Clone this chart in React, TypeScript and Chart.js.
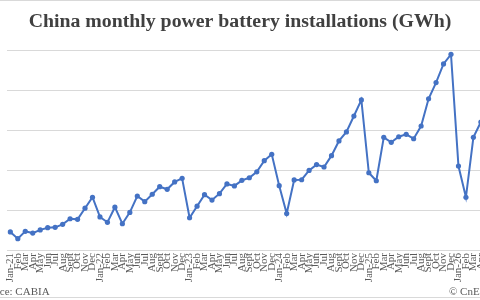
import React, { useEffect, useRef } from "react";
import { Chart, registerables } from "chart.js";

Chart.register(...registerables);

// Month labels, one per data point (Jan-21 .. Apr-26)
const LABELS_2021 = ["Jan-21", "Feb", "Mar", "Apr", "May", "Jun", "Jul", "Aug", "Sept", "Oct", "Nov", "Dec"];
const LABELS_2022 = ["Jan-22", "Feb", "Mar", "Apr", "May", "Jun", "Jul", "Aug", "Sept", "Oct", "Nov", "Dec"];
const LABELS_2023 = ["Jan-23", "Feb", "Mar", "Apr", "May", "Jun", "Jul", "Aug", "Sept", "Oct", "Nov", "Dec"];
const LABELS_2024 = ["Jan-24", "Feb", "Mar", "Apr", "May", "Jun", "Jul", "Aug", "Sept", "Oct", "Nov", "Dec"];
const LABELS_2025 = ["Jan-25", "Feb", "Mar", "Apr", "May", "Jun", "Jul", "Aug", "Sept", "Oct", "Nov", "Dec"];
const LABELS_2026 = ["Jan-26", "Feb", "Mar", "Apr"];

// Monthly installations, GWh
const GWH_2021 = [9.1, 5.7, 9.4, 8.5, 10.1, 11.2, 11.4, 12.9, 15.7, 15.4, 21.0, 26.5];
const GWH_2022 = [16.6, 13.9, 21.5, 13.2, 18.9, 27.1, 24.3, 28.0, 31.8, 30.5, 34.2, 36.0];
const GWH_2023 = [16.2, 22.0, 27.8, 25.1, 28.3, 33.2, 32.2, 35.0, 36.3, 39.3, 44.9, 48.1];
const GWH_2024 = [32.3, 18.3, 35.2, 35.3, 40.0, 42.9, 41.7, 47.4, 54.8, 59.3, 67.3, 75.4];
const GWH_2025 = [38.8, 34.8, 56.6, 54.1, 56.9, 58.1, 55.9, 62.3, 76.0, 84.1, 93.5, 98.3];
const GWH_2026 = [42.2, 26.5, 56.6, 64.3];

const LABELS = [...LABELS_2021, ...LABELS_2022, ...LABELS_2023, ...LABELS_2024, ...LABELS_2025, ...LABELS_2026];
const VALUES = [...GWH_2021, ...GWH_2022, ...GWH_2023, ...GWH_2024, ...GWH_2025, ...GWH_2026];

const TITLE = "China monthly power battery installations (GWh)";
const SOURCE = "Source: CABIA";
const CREDIT = "© CnEVPost";

const SERIF = '"Liberation Serif", "Times New Roman", serif';
const CANVAS_W = 560;
const CANVAS_H = 300;
const SHIFT = 40;
const SIDE_PAD = 35.4;

const footerPlugin = {
  id: "footerText",
  afterDraw(chart: any) {
    const { ctx } = chart;
    ctx.save();
    ctx.strokeStyle = "#d9d9d9";
    ctx.lineWidth = 1;
    ctx.beginPath();
    ctx.moveTo(0, 0.5);
    ctx.lineTo(CANVAS_W, 0.5);
    ctx.moveTo(0, 297.5);
    ctx.lineTo(CANVAS_W, 297.5);
    ctx.stroke();
    ctx.fillStyle = "#595959";
    ctx.font = `11px ${SERIF}`;
    ctx.textBaseline = "alphabetic";
    ctx.textAlign = "left";
    ctx.fillText(SOURCE, 19, 295);
    ctx.fillText(CREDIT, 489, 295);
    ctx.restore();
  },
};

export default function App() {
  const ref = useRef<HTMLCanvasElement>(null);

  useEffect(() => {
    if (!ref.current) return;
    const chart = new Chart(ref.current, {
      type: "line",
      data: {
        labels: LABELS,
        datasets: [
          {
            data: VALUES,
            borderColor: "#4472C4",
            backgroundColor: "#4472C4",
            borderWidth: 2,
            pointRadius: 2.6,
            pointBorderWidth: 0,
            pointBackgroundColor: "#4472C4",
            tension: 0,
            clip: 0,
          },
        ],
      },
      options: {
        responsive: false,
        animation: false,
        layout: { padding: { left: SIDE_PAD, right: SIDE_PAD, top: 0, bottom: 0 } },
        plugins: {
          legend: { display: false },
          tooltip: { enabled: false },
          title: {
            display: true,
            text: TITLE,
            color: "#404040",
            font: { family: SERIF, size: 19.8, weight: "bold", lineHeight: 1.2 },
            padding: { top: 10, bottom: 17.2 },
          },
        },
        scales: {
          x: {
            type: "category",
            offset: true,
            grid: { display: false, drawTicks: false },
            border: { display: false },
            ticks: {
              autoSkip: false,
              maxRotation: 90,
              minRotation: 90,
              padding: 3,
              color: "#595959",
              font: { family: SERIF, size: 11 },
            },
            afterFit(scale: any) {
              scale.height = 50;
            },
          },
          y: {
            min: 0,
            max: 100,
            ticks: { stepSize: 20, display: false },
            grid: { color: "#d9d9d9", lineWidth: 1, drawTicks: false },
            border: { display: false },
            afterFit(scale: any) {
              scale.width = SHIFT + 6.6 - SIDE_PAD;
            },
          },
        },
      },
      plugins: [footerPlugin],
    });
    return () => chart.destroy();
  }, []);

  return (
    <div
      style={{
        position: "fixed",
        left: 0,
        top: 0,
        width: 480,
        height: 300,
        overflow: "hidden",
        background: "#ffffff",
      }}
    >
      <div style={{ position: "absolute", left: -SHIFT, top: 0, width: CANVAS_W, height: CANVAS_H }}>
        <canvas ref={ref} width={CANVAS_W} height={CANVAS_H} />
      </div>
    </div>
  );
}
